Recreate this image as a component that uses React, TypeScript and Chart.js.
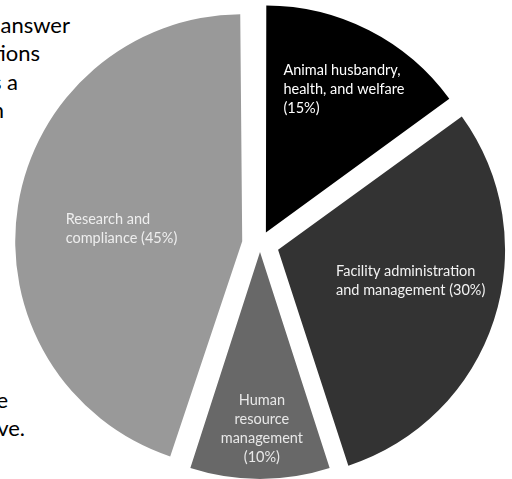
import React, { useEffect, useRef } from 'react';
import { Chart, registerables } from 'chart.js';

Chart.register(...registerables);

// ---- data ----
const categories = [
  'Animal husbandry, health, and welfare',
  'Facility administration and management',
  'Human resource management',
  'Research and compliance',
];
const shares = [15, 30, 10, 45];
const labelLines = [
  ['Animal husbandry,', 'health, and welfare', '(15%)'],
  ['Facility administration', 'and management (30%)'],
  ['Human', 'resource', 'management', '(10%)'],
  ['Research and', 'compliance (45%)'],
];
const sliceColors = ['#000000', '#333333', '#686868', '#999999'];
const labelColors = ['#ffffff', '#f2f2f2', '#e8e8e8', '#eeeeee'];
const explodeOffsets = [13, 19, 8, 18]; // px each slice is pulled out
const labelRadiusFrac = [0.718, 0.6, 0.778, 0.535];
const labelAngleShift = [1.6, -4.8, -0.6, -3];
const labelAlign: CanvasTextAlign[] = ['left', 'left', 'center', 'left'];

// text of the surrounding document, partly hidden by the figure
const bgFragments = ['answer', 'tions', 's a', 'n', 'e', 've.'];
const bgRight = [70, 40, 18, 4, 8, 25];
const bgCenterY = [25, 53, 82, 110, 400, 428];

const PIE_RADIUS = 227;
const FONT = 'Lato, "Open Sans", sans-serif';

// Chart.js translates an arc by offset/4 and grows its radius by a
// circumference-dependent amount; keep every slice at the same radius.
const radiusFixPlugin = {
  id: 'radiusFix',
  beforeDatasetsDraw(chart: any) {
    const meta = chart.getDatasetMeta(0);
    meta.data.forEach((arc: any, i: number) => {
      const circ = arc.endAngle - arc.startAngle;
      const fix = 1 - Math.sin(Math.min(Math.PI, circ || 0));
      arc.outerRadius = PIE_RADIUS - explodeOffsets[i] * fix;
    });
  },
};

const labelPlugin = {
  id: 'sliceLabels',
  afterDatasetsDraw(chart: any) {
    const meta = chart.getDatasetMeta(0);
    const ctx: CanvasRenderingContext2D = chart.ctx;
    ctx.save();
    ctx.font = `14.5px ${FONT}`;
    ctx.textBaseline = 'middle';
    const lh = 19;
    meta.data.forEach((arc: any, i: number) => {
      const mid = (arc.startAngle + arc.endAngle) / 2;
      const off = explodeOffsets[i];
      const a = mid + (labelAngleShift[i] * Math.PI) / 180;
      const r = labelRadiusFrac[i] * PIE_RADIUS;
      const cx = arc.x + Math.cos(mid) * off + Math.cos(a) * r;
      const cy = arc.y + Math.sin(mid) * off + Math.sin(a) * r;
      const lines = labelLines[i];
      const maxW = Math.max(...lines.map((l) => ctx.measureText(l).width));
      ctx.fillStyle = labelColors[i];
      ctx.textAlign = labelAlign[i];
      const x0 = labelAlign[i] === 'left' ? cx - maxW / 2 : cx;
      const y0 = cy - ((lines.length - 1) * lh) / 2;
      lines.forEach((l, k) => ctx.fillText(l, x0, y0 + k * lh));
    });
    ctx.restore();
  },
};

export default function App() {
  const ref = useRef<HTMLCanvasElement | null>(null);
  useEffect(() => {
    if (!ref.current) return;
    const chart = new Chart(ref.current, {
      type: 'pie',
      data: {
        labels: categories,
        datasets: [
          {
            data: shares,
            backgroundColor: sliceColors,
            borderWidth: 0,
            offset: explodeOffsets.map((o) => o * 4),
            radius: PIE_RADIUS,
            clip: false as any,
          } as any,
        ],
      },
      options: {
        animation: false,
        responsive: true,
        maintainAspectRatio: false,
        layout: { padding: { left: 8, right: 0, top: 9, bottom: 0 } },
        plugins: {
          legend: { display: false },
          tooltip: { enabled: false },
        },
        events: [],
      },
      plugins: [radiusFixPlugin, labelPlugin],
    });
    return () => chart.destroy();
  }, []);

  return (
    <div
      style={{
        position: 'fixed',
        left: 0,
        top: 0,
        width: 512,
        height: 479,
        overflow: 'hidden',
        background: '#ffffff',
      }}
    >
      {bgFragments.map((t, i) => (
        <span
          key={i}
          style={{
            position: 'absolute',
            right: 512 - bgRight[i],
            top: bgCenterY[i] - 14,
            height: 28,
            lineHeight: '28px',
            fontFamily: FONT,
            fontSize: 22,
            color: '#000',
            whiteSpace: 'nowrap',
          }}
        >
          {t}
        </span>
      ))}
      <canvas ref={ref} style={{ position: 'absolute', left: 0, top: 0 }} />
    </div>
  );
}
